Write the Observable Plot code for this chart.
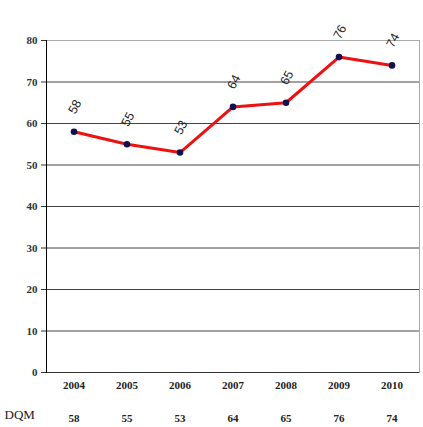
<!DOCTYPE html>
<html><head><meta charset="utf-8">
<script src="https://cdn.jsdelivr.net/npm/d3@7"></script>
<script src="https://cdn.jsdelivr.net/npm/@observablehq/plot@0.6"></script>
<style>body{margin:0;background:#fff}</style>
</head><body><div id="chart"></div>
<script>
const years = ["2004","2005","2006","2007","2008","2009","2010"];
const values = [58,55,53,64,65,76,74];
const seriesName = "DQM";
const yTicks = [0,10,20,30,40,50,60,70,80];
const data = years.map((y,i)=>({year:y, value:values[i]}));
const serif = "'Liberation Serif', 'DejaVu Serif', serif";
const chart = Plot.plot({
  width: 423, height: 427,
  marginLeft: 46, marginRight: 4, marginTop: 40, marginBottom: 55,
  style: {fontFamily: serif, background: "#fff"},
  x: {type: "band", domain: years, padding: 0, label: null},
  y: {domain: [0,80], label: null},
  marks: [
    Plot.ruleY(yTicks.filter(d=>d>0 && d<80), {stroke:"#444", strokeWidth:1}),
    Plot.ruleY([80], {stroke:"#aaa", strokeWidth:1}),
    Plot.frame({anchor:"right", stroke:"#aaa"}),
    Plot.ruleY([0], {stroke:"#333", strokeWidth:1.2}),
    Plot.axisY({ticks: yTicks, tickSize: 5, tickPadding: 4, fontWeight: "bold", fontSize: 11, color:"#333", fontFamily: serif}),
    Plot.frame({anchor:"left", stroke:"#000"}),
    Plot.axisX({tickSize: 0, tickPadding: 9, fontWeight: "bold", fontSize: 11, color:"#222", fontFamily: serif}),
    Plot.line(data, {x:"year", y:"value", stroke:"#ee1111", strokeWidth:3}),
    Plot.dot(data, {x:"year", y:"value", fill:"#101050", r:3.3}),
    Plot.text(data, {x:"year", y:"value", text:d=>String(d.value), rotate:-62, dy:-25, dx:1, fontSize:12.5, fill:"#222", fontFamily:"'Liberation Sans', Arial, sans-serif"}),
    Plot.text(data, {x:"year", y:()=>0, text:d=>String(d.value), dy:46, fontWeight:"bold", fontSize:11, fill:"#222"}),
    Plot.text([seriesName], {frameAnchor:"bottom-left", text:d=>d, dy:46, dx:-42, textAnchor:"start", fontSize:13, fill:"#222"})
  ]
});
document.getElementById("chart").appendChild(chart);
</script></body></html>
